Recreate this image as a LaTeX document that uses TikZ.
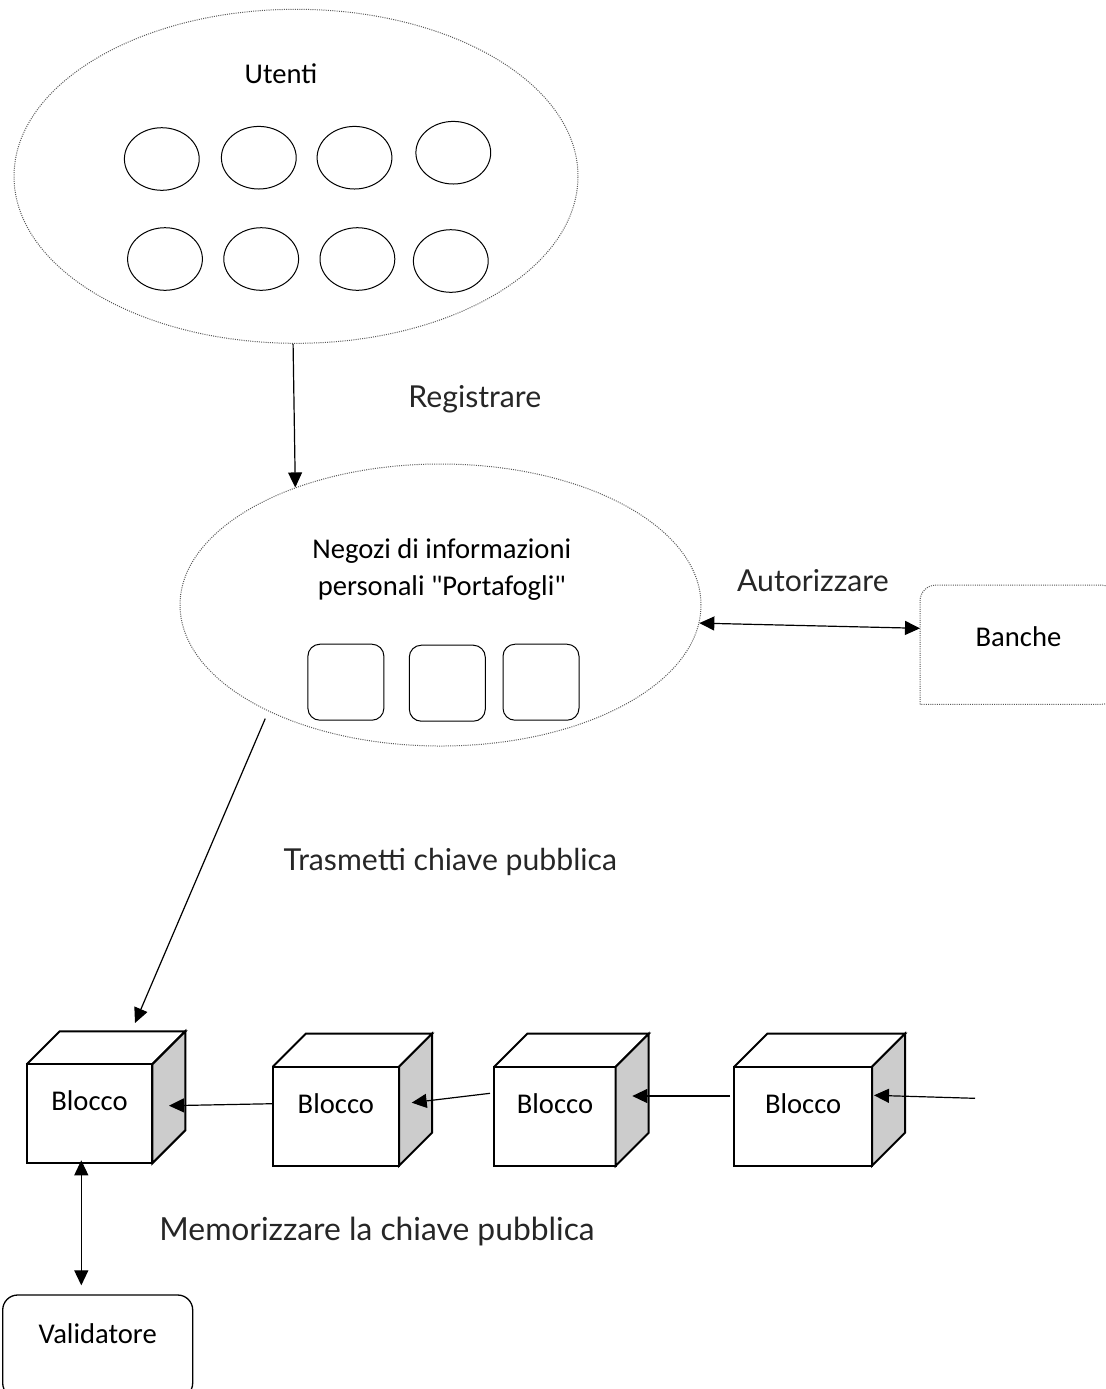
\documentclass[tikz,border=0pt]{standalone}
\usepackage{fontspec}
\setmainfont{Carlito}
\newfontfamily\gillfont{Lato}
\usetikzlibrary{arrows.meta,shapes.geometric}
\definecolor{cubegray}{gray}{0.8}
\definecolor{dotgray}{gray}{0.35}
\definecolor{lblgray}{gray}{0.15}

\begin{document}
\begin{tikzpicture}[x=0.5pt,y=-0.5pt,font=\fontsize{14.3}{18.35}\selectfont,
  arr/.style={-{Triangle[length=7.5pt,width=7pt]},line width=0.6pt},
  twoarr/.style={{Triangle[length=7.5pt,width=7pt]}-{Triangle[length=7.5pt,width=7pt]},line width=0.6pt}]

\tikzstyle{dotline}=[draw=dotgray,line width=0.5pt,dash pattern=on 0.5pt off 0.6pt]
\tikzstyle{usr}=[ellipse,draw,line width=0.5pt,minimum width=37.4pt,minimum height=31.3pt,inner sep=0pt]
\tikzstyle{wallet}=[rectangle,draw,rounded corners=6pt,line width=0.5pt,minimum size=38pt,inner sep=0pt]
\tikzstyle{blocco}=[rectangle,draw,fill=white,line width=1pt,minimum height=49.5pt,inner sep=0pt,outer sep=0pt,text height=10pt,text depth=13pt]
\tikzstyle{cubeline}=[line width=1pt,line join=miter]
\tikzstyle{elbl}=[font=\gillfont\fontsize{15.1}{18}\selectfont,text=lblgray,inner sep=0pt]

\clip (0,0) rectangle (1106,1389);

%users
\node [ellipse,dotline,minimum width=282pt,minimum height=167pt,inner sep=0pt] (ute) at (296,176.3) {};
\node [anchor=base,inner sep=0pt] (utetxt) at (281,83.3) {Utenti};

\node [usr] (u1) at (161.8,159) {};
\node [usr] (u2) at (258.8,157.7) {};
\node [usr] (u3) at (354.5,157.7) {};
\node [usr] (u4) at (453.3,152.7) {};
\node [usr] (u5) at (165,259) {};
\node [usr] (u6) at (261.2,259) {};
\node [usr] (u7) at (357.4,259) {};
\node [usr] (u8) at (450.8,261) {};

%wallets
\node [ellipse,dotline,minimum width=260.5pt,minimum height=141pt,inner sep=0pt] (neg) at (440.5,605) {};
\node [align=center,inner sep=0pt] (negtxt) at (441.8,569.7) {Negozi di informazioni\\personali \textquotedbl Portafogli\textquotedbl};

\node [wallet] (w1) at (345.9,682.2) {};
\node [wallet] (w2) at (447.3,683.2) {};
\node [wallet] (w3) at (541,682.2) {};

%banks
\node [minimum width=98.5pt,minimum height=59.65pt,inner sep=0pt,outer sep=0pt,text height=10pt,text depth=8.7pt] (bank) at (1018.5,644.7) {Banche};
\draw [dotline,rounded corners=8pt] (bank.south west) -- (bank.north west) -- (bank.north east) -- (bank.south east) -- (bank.south west);

%chain of blocks
\node [blocco,minimum width=62.8pt] (blk1) at (89.5,1113.8) {Blocco};
\draw [cubeline] (blk1.north west) -- ++(33,-33) -- ([shift={(33,-33)}]blk1.north east) -- (blk1.north east);
\draw [cubeline,fill=cubegray] (blk1.north east) -- ([shift={(33,-33)}]blk1.north east) -- ([shift={(33,-33)}]blk1.south east) -- (blk1.south east) -- cycle;

\node [blocco,minimum width=63.15pt] (blk2) at (335.85,1116.2) {Blocco};
\draw [cubeline] (blk2.north west) -- ++(33,-33) -- ([shift={(33,-33)}]blk2.north east) -- (blk2.north east);
\draw [cubeline,fill=cubegray] (blk2.north east) -- ([shift={(33,-33)}]blk2.north east) -- ([shift={(33,-33)}]blk2.south east) -- (blk2.south east) -- cycle;

\node [blocco,minimum width=60.7pt] (blk3) at (555,1116.2) {Blocco};
\draw [cubeline] (blk3.north west) -- ++(33,-33) -- ([shift={(33,-33)}]blk3.north east) -- (blk3.north east);
\draw [cubeline,fill=cubegray] (blk3.north east) -- ([shift={(33,-33)}]blk3.north east) -- ([shift={(33,-33)}]blk3.south east) -- (blk3.south east) -- cycle;

\node [blocco,minimum width=68.85pt] (blk4) at (803.15,1116.2) {Blocco};
\draw [cubeline] (blk4.north west) -- ++(33,-33) -- ([shift={(33,-33)}]blk4.north east) -- (blk4.north east);
\draw [cubeline,fill=cubegray] (blk4.north east) -- ([shift={(33,-33)}]blk4.north east) -- ([shift={(33,-33)}]blk4.south east) -- (blk4.south east) -- cycle;

\coordinate (tail) at (975,1098.3);

%validator
\node [draw,rounded corners=7.5pt,line width=0.65pt,minimum width=95pt,minimum height=51.5pt,inner sep=0pt,text height=10pt,text depth=13pt] (val) at (97.7,1346.5) {Validatore};

%labels
\node [elbl,anchor=base west] (lreg) at (408,407) {Registrare};
\node [elbl,anchor=base west] (laut) at (736.7,591) {Autorizzare};
\node [elbl,anchor=base west] (ltra) at (283.3,870.7) {Trasmetti chiave pubblica};
\node [elbl,anchor=base west,font=\gillfont\fontsize{15.9}{18}\selectfont] (lmem) at (159,1240) {Memorizzare la chiave pubblica};

%arrows
\draw [arr] (ute.269) -- (neg.141);
\draw [twoarr] (neg.356) -- ([yshift=8.2pt]bank.west);
\draw [arr] ([xshift=-4pt,yshift=-2.5pt]neg.213) -- ([xshift=22.75pt,yshift=20.65pt]blk1.north);
\draw [twoarr] ([xshift=-4.1pt,yshift=1.5pt]blk1.south) -- ([xshift=-8.2pt,yshift=4.5pt]val.north);

\draw [arr] ([yshift=6.25pt]blk2.west) -- ([xshift=8.35pt,yshift=4.05pt]blk1.east);
\draw [arr] ([xshift=-2.15pt,yshift=11.45pt]blk3.west) -- ([xshift=6.35pt,yshift=6.75pt]blk2.east);
\draw [arr] ([xshift=-2.15pt,yshift=10.1pt]blk4.west) -- ([xshift=8.3pt,yshift=10.1pt]blk3.east);
\draw [arr] (tail) -- ([xshift=1pt,yshift=10.45pt]blk4.east);

\end{tikzpicture}
\end{document}
